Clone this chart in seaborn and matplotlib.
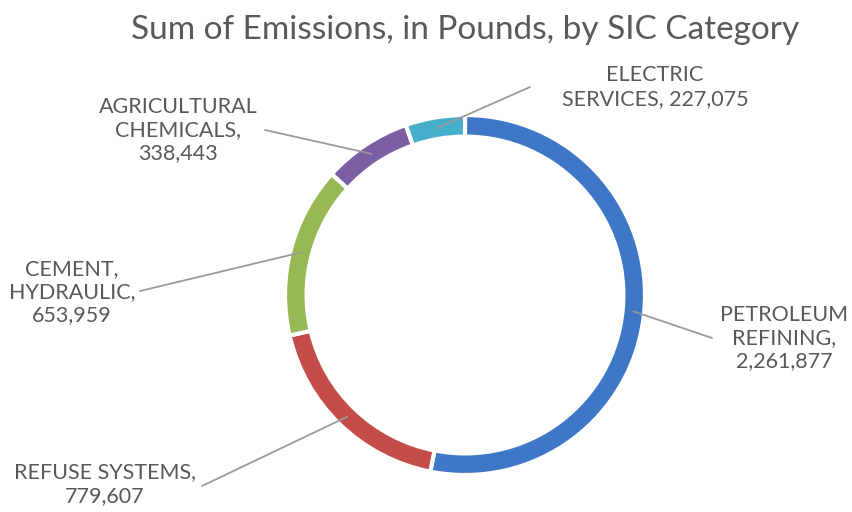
import numpy as np
import matplotlib
matplotlib.use("Agg")
import matplotlib.pyplot as plt
import seaborn as sns

categories = ["PETROLEUM\nREFINING,", "REFUSE SYSTEMS,", "CEMENT,\nHYDRAULIC,",
              "AGRICULTURAL\nCHEMICALS,", "ELECTRIC\nSERVICES,"]
values = [2261877, 779607, 653959, 338443, 227075]
colors = ["#3F77C7", "#C44D49", "#96B954", "#7C5EA4", "#45AECB"]

sns.set_theme(style="white")
plt.rcParams['font.family'] = ['Lato', 'DejaVu Sans']

W, H = 853, 512
fig = plt.figure(figsize=(W / 100, H / 100), dpi=100)
cx, cy, R = 465, 295, 180
ax = fig.add_axes([(cx - R) / W, (H - cy - R) / H, 2 * R / W, 2 * R / H])

ring_w = 0.12
wedges, _ = ax.pie(values, colors=colors, startangle=90, counterclock=False, radius=1,
                   wedgeprops=dict(width=ring_w, edgecolor="white", linewidth=3))
ax.set_xlim(-1, 1)
ax.set_ylim(-1, 1)
ax.set_aspect("equal")
ax.axis("off")

# label layout (figure pixels from top): line end, text anchor, alignment
layout = [
    dict(end=(712, 338), txt=(784, 338), ha="center", lab="{}\n{}"),
    dict(end=(202, 486), txt=(105, 484), ha="center", lab="{}\n{}"),
    dict(end=(140, 291), txt=(72, 292), ha="center", lab="{}\n{}"),
    dict(end=(265, 130), txt=(178, 130), ha="center", lab="{}\n{}"),
    dict(end=(530, 87), txt=(655, 87), ha="center", lab="{} {}"),
]

total = sum(values)
cum = 0
for v, cat, lay in zip(values, categories, layout):
    mid = (cum + v / 2) / total
    cum += v
    ang = np.deg2rad(90 - 360 * mid)
    r = 1 - ring_w / 2
    ex, ey = lay["end"]
    ax.annotate("", xy=(r * np.cos(ang), r * np.sin(ang)), xycoords="data",
                xytext=(ex, H - ey), textcoords="figure pixels",
                arrowprops=dict(arrowstyle="-", color="#9a9a9a", lw=1.3,
                                shrinkA=0, shrinkB=0))
    if lay["lab"] == "{} {}":
        parts = cat.split("\n")
        text = parts[0] + "\n" + parts[1] + " " + f"{v:,}"
    else:
        text = cat + "\n" + f"{v:,}"
    tx, ty = lay["txt"]
    fig.text(tx / W, 1 - ty / H, text, ha=lay["ha"], va="center", fontsize=15.5,
             color="#595959", multialignment="center", linespacing=1.2)

fig.text(cx / W, 1 - 30 / H, "Sum of Emissions, in Pounds, by SIC Category",
         ha="center", va="center", fontsize=24, color="#595959")

fig.savefig("out.png", dpi=100, facecolor="white")
